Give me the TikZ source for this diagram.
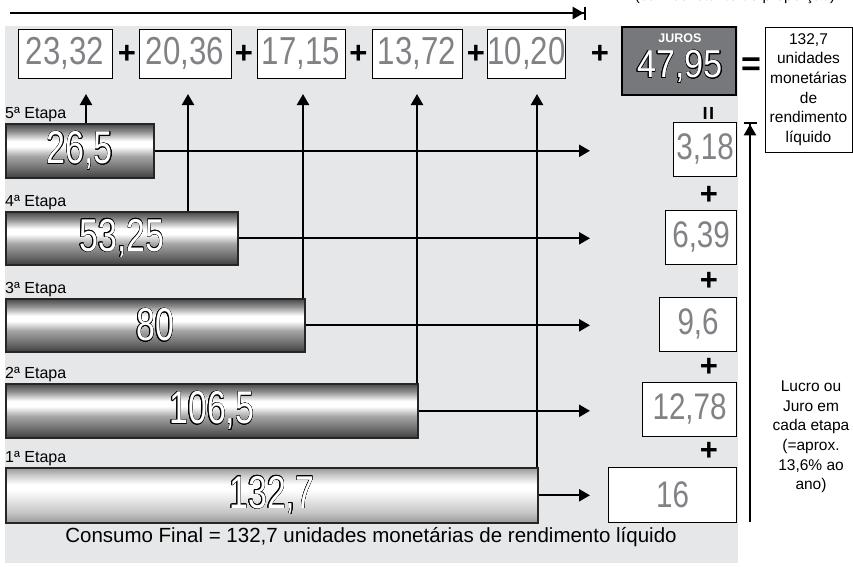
\documentclass[tikz,border=0pt]{standalone}
\usepackage{fontspec}
\setmainfont{Liberation Sans}
\newfontfamily\topfont{Liberation Sans}[FakeStretch=0.8]
\newfontfamily\colfont{Liberation Sans}[FakeStretch=0.8]
\newfontfamily\barfont{Liberation Sans}[FakeStretch=0.74]
\newfontfamily\jurfont{Liberation Sans}[FakeStretch=0.88]
\usepackage{contour}
\contourlength{0.45pt}
\usetikzlibrary{arrows.meta}
\definecolor{bg}{HTML}{E6E7E8}
\definecolor{numgray}{HTML}{808285}
\definecolor{jurosfill}{HTML}{77787B}
\pgfdeclareverticalshading{barshade}{100bp}{color(0bp)=(black!75); color(25bp)=(black!75); color(32bp)=(black!60); color(45bp)=(black!35); color(54bp)=(white); color(59bp)=(white); color(68bp)=(black!45); color(75bp)=(black!72); color(100bp)=(black!72)}
\pgfdeclareverticalshading{barlight}{100bp}{color(0bp)=(black!40); color(25bp)=(black!40); color(35bp)=(black!22); color(50bp)=(black!5); color(55bp)=(white); color(60bp)=(white); color(68bp)=(black!20); color(75bp)=(black!40); color(100bp)=(black!40)}
\begin{document}
\begin{tikzpicture}[x=1pt,y=-1pt,
  numbox/.style={draw=black, line width=0.8pt, fill=white, inner sep=0pt, text=numgray},
  topbox/.style={numbox, minimum height=49pt, font=\topfont\fontsize{39}{39}\selectfont},
  colbox/.style={numbox, minimum height=54pt, anchor=east, font=\colfont\fontsize{37}{37}\selectfont},
  bar/.style={draw=black!85, line width=1.6pt, shade, shading=barshade, inner sep=0pt, anchor=north west, font=\barfont\fontsize{46}{46}\selectfont},
  stage/.style={anchor=base west, inner sep=0pt, font=\fontsize{16}{16}\selectfont},
  plus/.style={font=\bfseries\fontsize{31}{31}\selectfont, inner sep=0pt},
  conn/.style={line width=2.3pt, -{Triangle[width=12pt,length=11pt]}},
  bararrow/.style={line width=2.3pt, -{Triangle[width=12pt,length=11pt]Bar[width=13pt,line width=2.3pt]}},
  infotext/.style={align=center, inner sep=0pt, font=\fontsize{15.5}{19.7}\selectfont},
]
\useasboundingbox (0,0) rectangle (853,566);
\fill[bg] (5,26) rectangle (738,563);
% clipped note at top
\begin{scope}
\clip (0,0) rectangle (853,566);
\node[anchor=base, inner sep=0pt, font=\fontsize{15}{15}\selectfont] (note) at (735,0.5) {(com constante de proporção)};
\end{scope}
% top arrow
\coordinate (ts) at (10,13);
\coordinate (te) at (586,13);
\draw[bararrow] (ts) -- (te);
% top row
\node[topbox, minimum width=94pt] (t1) at (65,53.5) {23,32};
\node[topbox, minimum width=92pt] (t2) at (185,53.5) {20,36};
\node[topbox, minimum width=88pt] (t3) at (301,53.5) {17,15};
\node[topbox, minimum width=90pt] (t4) at (417,53.5) {13,72};
\node[topbox, minimum width=71pt] (t5) at (526.5,53.5) {10,20};
\node[plus] (p1) at (127,54) {+};
\node[plus] (p2) at (244,54) {+};
\node[plus] (p3) at (358.5,54) {+};
\node[plus] (p4) at (476,54) {+};
\node[plus] (p5) at (600,54) {+};
\node[draw=black, line width=1.6pt, fill=jurosfill, minimum width=114pt, minimum height=68pt, inner sep=0pt] (juros) at (679,61) {};
\node[text=white, font=\bfseries\fontsize{12.5}{12.5}\selectfont, inner sep=0pt] (jl) at (680,38) {JUROS};
\node[inner sep=0pt, font=\jurfont\fontsize{39}{39}\selectfont] (jv) at (680,67) {\textcolor{white}{\contour{black}{47,95}}};
\node[font=\bfseries\fontsize{34}{34}\selectfont, inner sep=0pt] (eq) at (751,67) {=};
\node[font=\bfseries\fontsize{24}{24}\selectfont, inner sep=0pt, rotate=90] (eqv) at (710,113) {=};
\node[draw=black, line width=1pt, minimum width=87pt, minimum height=125pt, infotext] (res) at (808.5,89.5) {132,7\\unidades\\monetárias\\de\\rendimento\\líquido};
% bars
\node[bar, minimum width=148pt, minimum height=54pt] (b5) at (5,123) {\textcolor{white}{\contour{black}{26,5}}};
\node[bar, minimum width=232pt, minimum height=53pt] (b4) at (5,211) {\textcolor{white}{\contour{black}{53,25}}};
\node[bar, minimum width=299pt, minimum height=53pt] (b3) at (5,298) {\textcolor{white}{\contour{black}{80}}};
\node[bar, minimum width=412pt, minimum height=54pt] (b2) at (5,383) {\textcolor{white}{\contour{black}{106,5}}};
\node[bar, shading=barlight, minimum width=532pt, minimum height=55pt] (b1) at (5,467) {\textcolor{white}{\contour{black}{132,7}}};
\node[stage] (s5) at ([yshift=5pt]b5.north west) {5ª Etapa};
\node[stage] (s4) at ([yshift=5pt]b4.north west) {4ª Etapa};
\node[stage] (s3) at ([yshift=5pt]b3.north west) {3ª Etapa};
\node[stage] (s2) at ([yshift=5pt]b2.north west) {2ª Etapa};
\node[stage] (s1) at ([yshift=5pt]b1.north west) {1ª Etapa};
% right column
\node[colbox, minimum width=63pt] (r5) at (737,149) {3,18};
\node[colbox, minimum width=71pt] (r4) at (737,237) {6,39};
\node[colbox, minimum width=77pt] (r3) at (737,324) {9,6};
\node[colbox, minimum width=94pt] (r2) at (737,409) {12,78};
\node[colbox, minimum width=128pt, minimum height=55pt] (r1) at (737,494.5) {16};
\node[plus] (q4) at (709,195) {+};
\node[plus] (q3) at (709,281) {+};
\node[plus] (q2) at (709,367) {+};
\node[plus] (q1) at (709,451) {+};
% vertical connectors to top row
\coordinate (u5) at (86,94);
\coordinate (u4) at (188,94);
\coordinate (u3) at (303,94);
\coordinate (u2) at (417,94);
\coordinate (u1) at (537,94);
\draw[conn] (u5 |- b5.north) -- (u5);
\draw[conn] (u4 |- b4.north) -- (u4);
\draw[conn] (u3 |- b3.north) -- (u3);
\draw[conn] (u2 |- b2.north) -- (u2);
\draw[conn] (u1 |- b1.north) -- (u1);
% horizontal connectors
\coordinate (tip) at (590,0);
\draw[conn] (b5.east) -- (b5.east -| tip);
\draw[conn] (b4.east) -- (b4.east -| tip);
\draw[conn] (b3.east) -- (b3.east -| tip);
\draw[conn] (b2.east) -- (b2.east -| tip);
\draw[conn] (b1.east) -- (b1.east -| tip);
% right vertical arrow
\coordinate (vb) at (750,522);
\coordinate (vt) at (750,122);
\draw[bararrow] (vb) -- (vt);
\node[infotext] (lucro) at (811,437) {Lucro ou\\Juro em\\cada etapa\\(=aprox.\\13,6\% ao\\ano)};
\node[inner sep=0pt, font=\fontsize{20.5}{20.5}\selectfont] (cf) at (371,537) {Consumo Final = 132,7 unidades monetárias de rendimento líquido};
\end{tikzpicture}
\end{document}
